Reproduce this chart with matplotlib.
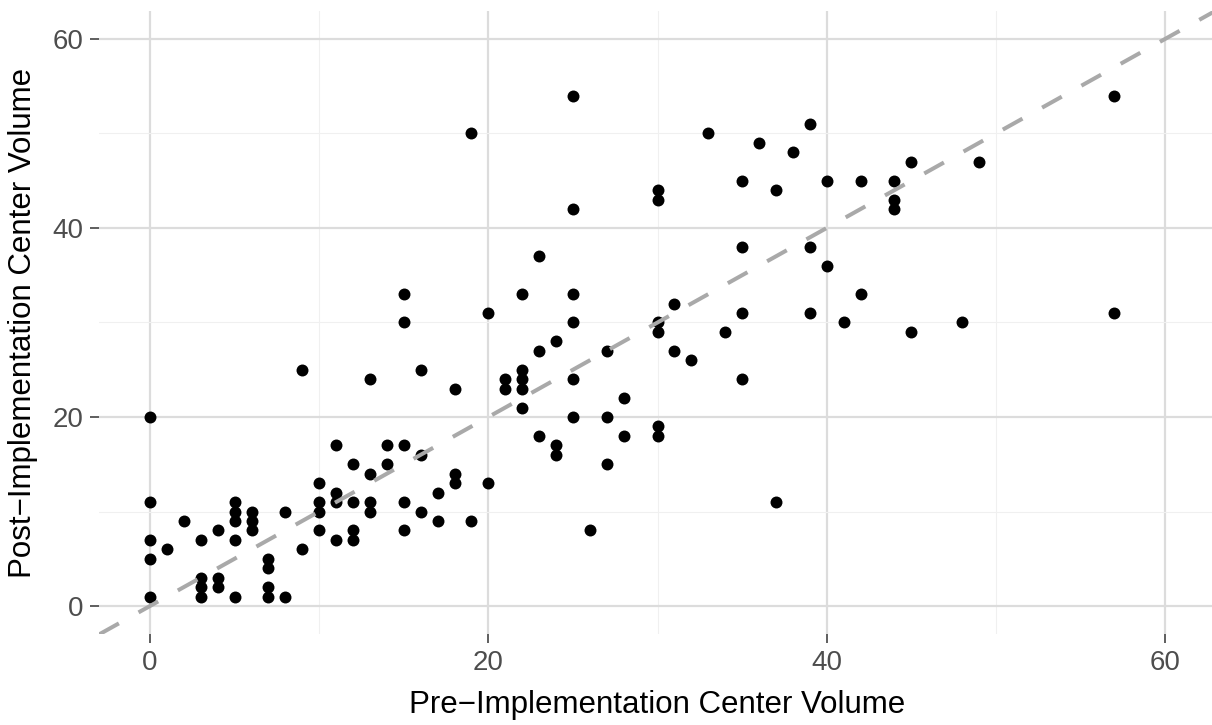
# Pre vs post implementation center volume scatter, with y = x reference line
import numpy as np
import matplotlib
matplotlib.use("Agg")
import matplotlib.pyplot as plt

plt.rcParams['font.family'] = ['Liberation Sans', 'DejaVu Sans']
plt.rcParams['lines.scale_dashes'] = False

# one entry per center: volume before and after implementation
pre_volume = [
    0, 0, 0, 0, 0,
    1,
    2,
    3, 3, 3, 3,
    4, 4, 4,
    5, 5, 5, 5, 5,
    6, 6, 6,
    7, 7, 7, 7,
    8, 8,
    9, 9,
    10, 10, 10, 10,
    11, 11, 11, 11,
    12, 12, 12, 12,
    13, 13, 13, 13,
    14, 14,
    15, 15, 15, 15, 15,
    16, 16, 16,
    17, 17,
    18, 18, 18,
    19, 19,
    20, 20,
    21, 21,
    22, 22, 22, 22, 22,
    23, 23, 23,
    24, 24, 24,
    25, 25, 25, 25, 25, 25,
    26,
    27, 27, 27,
    28, 28,
    30, 30, 30, 30, 30, 30,
    31, 31,
    32,
    33,
    34,
    35, 35, 35, 35,
    36,
    37, 37,
    38,
    39, 39, 39,
    40, 40,
    41,
    42, 42,
    44, 44, 44,
    45, 45,
    48,
    49,
    57, 57,
]
post_volume = [
    20, 11, 7, 5, 1,
    6,
    9,
    7, 3, 2, 1,
    8, 3, 2,
    11, 10, 9, 7, 1,
    10, 9, 8,
    5, 4, 2, 1,
    10, 1,
    25, 6,
    13, 11, 10, 8,
    17, 12, 11, 7,
    15, 11, 8, 7,
    24, 14, 11, 10,
    17, 15,
    33, 30, 17, 11, 8,
    25, 16, 10,
    12, 9,
    23, 14, 13,
    50, 9,
    31, 13,
    24, 23,
    33, 25, 24, 23, 21,
    37, 27, 18,
    28, 17, 16,
    54, 42, 33, 30, 24, 20,
    8,
    27, 20, 15,
    22, 18,
    44, 43, 30, 29, 19, 18,
    32, 27,
    26,
    50,
    29,
    45, 38, 31, 24,
    49,
    44, 11,
    48,
    51, 38, 31,
    45, 36,
    30,
    45, 33,
    45, 43, 42,
    47, 29,
    30,
    47,
    54, 31,
]

lims = (-3, 63)
major = [0, 20, 40, 60]
minor = [10, 30, 50]

fig = plt.figure(figsize=(12.12, 7.25), dpi=100)
ax = fig.add_axes([99.25 / 1212, 90.65 / 725, 1116.5 / 1212, 623.7 / 725])

ax.set_xlim(lims)
ax.set_ylim(lims)
ax.set_xticks(major)
ax.set_yticks(major)
ax.set_xticks(minor, minor=True)
ax.set_yticks(minor, minor=True)

# grid: lighter minor lines under heavier major lines
ax.grid(which='minor', color='#F0F0F0', linewidth=0.8)
ax.grid(which='major', color='#DCDCDC', linewidth=1.6)
ax.set_axisbelow(True)
for s in ax.spines.values():
    s.set_visible(False)

ax.tick_params(which='major', length=6.5, width=1.1, color='#333333',
               labelsize=20, labelcolor='#4D4D4D', pad=5)
ax.tick_params(which='minor', length=0)

ax.scatter(pre_volume, post_volume, s=74, color='black', linewidths=0, zorder=3)

# identity line
ax.plot(lims, lims, color='#A9A9A9', linewidth=2.9, dashes=(16.2, 16.2),
        solid_capstyle='butt', dash_capstyle='butt', zorder=4)

ax.set_xlabel('Pre\u2212Implementation Center Volume', fontsize=22.5, labelpad=10)
ax.set_ylabel('Post\u2212Implementation Center Volume', fontsize=22.5, labelpad=10)

fig.savefig('out.png', dpi=100)
